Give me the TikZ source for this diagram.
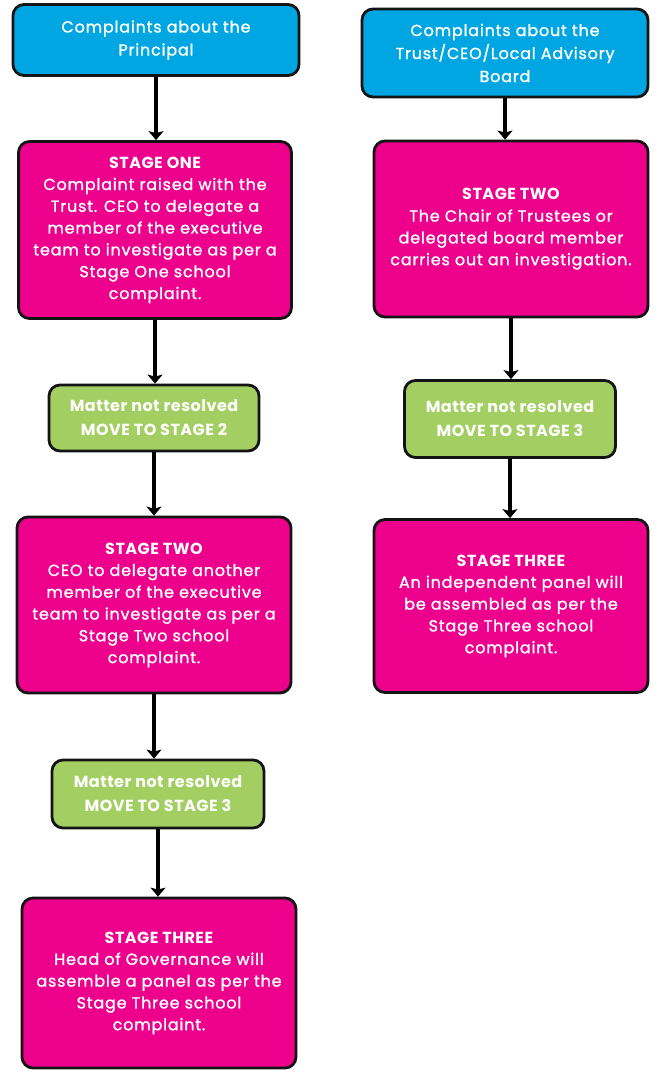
\documentclass[tikz,border=0pt]{standalone}
\usepackage{fontspec}
\setmainfont{Poppins}
\newfontfamily\bodyfont[LetterSpace=5, AutoFakeBold=1.3]{Poppins}
\newfontfamily\headfont[LetterSpace=3]{Poppins}
\usetikzlibrary{arrows.meta}
\definecolor{topblue}{HTML}{00A6E2}
\definecolor{stagepink}{HTML}{EC008C}
\definecolor{movegreen}{HTML}{A3CF62}
\definecolor{edgeblack}{HTML}{141414}

\newcommand{\stagehead}[1]{{\headfont\bfseries #1}}

\tikzset{
  box/.style={draw=edgeblack, line width=2.8pt, rounded corners=11pt, align=center,
    text=white, inner sep=0pt},
  startbox/.style={box, fill=topblue, font=\bodyfont\bfseries\fontsize{16}{23}\selectfont},
  stagebox/.style={box, fill=stagepink, font=\bodyfont\bfseries\fontsize{16}{21.8}\selectfont},
  movebox/.style={box, fill=movegreen, font=\headfont\bfseries\fontsize{16}{24}\selectfont},
  flow/.style={line width=4pt, -{Stealth[length=9pt,width=15pt,inset=2pt]}}
}

\begin{document}
\begin{tikzpicture}[x=1pt, y=1pt]
    \useasboundingbox (0, 0) rectangle (656, -1070);
    % left column
    \node[startbox, minimum width=286, minimum height=71] (princ) at (156, -40)
        {Complaints about the\\Principal};
    \node[stagebox, minimum width=273, minimum height=177] (oneL) at (155, -230)
        {\stagehead{STAGE ONE}\\Complaint raised with the\\Trust. CEO to delegate a\\member of the executive\\team to investigate as per a\\Stage One school\\complaint.};
    \node[movebox, minimum width=210, minimum height=66] (moveL2) at (154, -418)
        {Matter not resolved\\MOVE TO STAGE 2};
    \node[stagebox, minimum width=274, minimum height=176] (twoL) at (154, -605)
        {\stagehead{STAGE TWO}\\CEO to delegate another\\member of the executive\\team to investigate as per a\\Stage Two school\\complaint.};
    \node[movebox, minimum width=212, minimum height=68] (moveL3) at (158, -794)
        {Matter not resolved\\MOVE TO STAGE 3};
    \node[stagebox, minimum width=274, minimum height=170] (threeL) at (159, -983)
        {\stagehead{STAGE THREE}\\Head of Governance will\\assemble a panel as per the\\Stage Three school\\complaint.};
    % right column
    \node[startbox, minimum width=286, minimum height=88] (trust) at (505, -53)
        {Complaints about the\\Trust/CEO/Local Advisory\\Board};
    \node[stagebox, minimum width=274, minimum height=176] (twoR) at (511, -229)
        {\stagehead{STAGE TWO}\\The Chair of Trustees or\\delegated board member\\carries out an investigation.};
    \node[movebox, minimum width=211, minimum height=77] (moveR3) at (510, -419)
        {Matter not resolved\\MOVE TO STAGE 3};
    \node[stagebox, minimum width=274, minimum height=173] (threeR) at (511, -606)
        {\stagehead{STAGE THREE}\\An independent panel will\\be assembled as per the\\Stage Three school\\complaint.};
    % connectors
    \draw[flow] (princ.south) -- (princ.south |- oneL.north);
    \draw[flow] (oneL.south) -- (oneL.south |- moveL2.north);
    \draw[flow] (moveL2.south) -- (moveL2.south |- twoL.north);
    \draw[flow] (twoL.south) -- (twoL.south |- moveL3.north);
    \draw[flow] (moveL3.south) -- (moveL3.south |- threeL.north);
    \draw[flow] (trust.south) -- (trust.south |- twoR.north);
    \draw[flow] (twoR.south) -- (twoR.south |- moveR3.north);
    \draw[flow] (moveR3.south) -- (moveR3.south |- threeR.north);
\end{tikzpicture}
\end{document}
